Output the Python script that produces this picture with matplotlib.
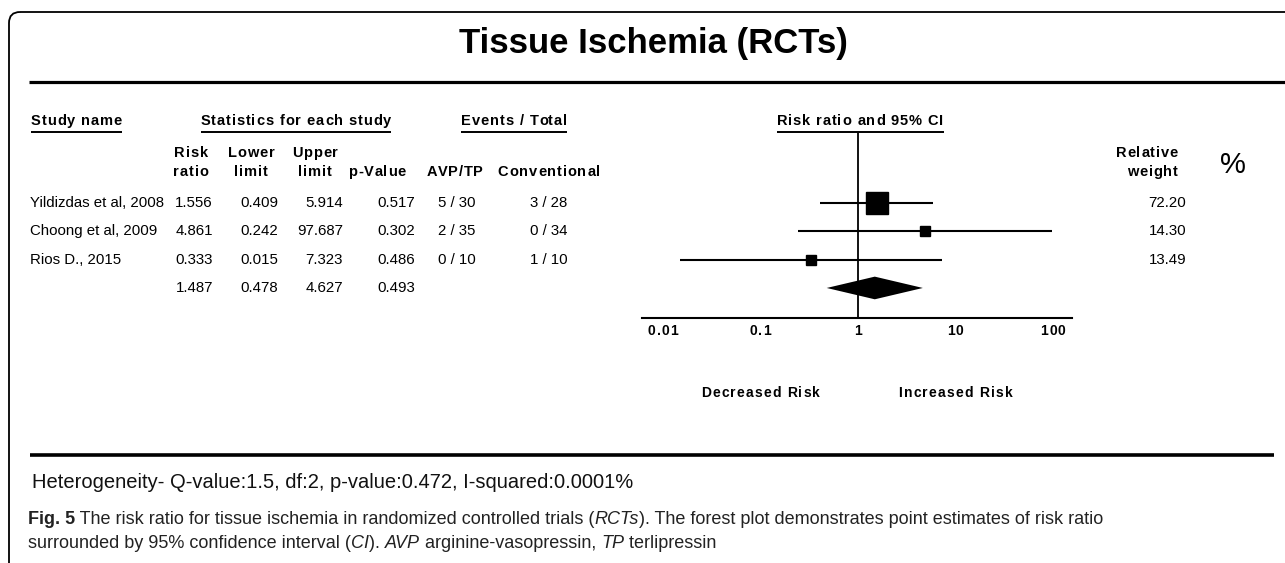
import matplotlib
matplotlib.use('Agg')
import matplotlib.pyplot as plt
from matplotlib.patches import FancyBboxPatch
from matplotlib.font_manager import FontProperties

# --- data ---
title = 'Tissue Ischemia (RCTs)'
studies = ['Yildizdas et al, 2008', 'Choong et al, 2009', 'Rios D., 2015']
risk_ratio = [1.556, 4.861, 0.333]
lower_limit = [0.409, 0.242, 0.015]
upper_limit = [5.914, 97.687, 7.323]
p_values = [0.517, 0.302, 0.486]
avp_tp = ['5 / 30', '2 / 35', '0 / 10']
conventional = ['3 / 28', '0 / 34', '1 / 10']
rel_weight = [72.20, 14.30, 13.49]
pooled_rr = 1.487
pooled_lo = 0.478
pooled_hi = 4.627
pooled_p = 0.493
xticks = [0.01, 0.1, 1, 10, 100]
xtick_labels = ['0.01', '0.1', '1', '10', '100']
heterogeneity = 'Heterogeneity- Q-value:1.5, df:2, p-value:0.472, I-squared:0.0001%'
caption1 = [('Fig. 5', 'bold', 'normal'),
            (' The risk ratio for tissue ischemia in randomized controlled trials (', 'normal', 'normal'),
            ('RCTs', 'normal', 'italic'),
            ('). The forest plot demonstrates point estimates of risk ratio', 'normal', 'normal')]
caption2 = [('surrounded by 95% confidence interval (', 'normal', 'normal'),
            ('CI', 'normal', 'italic'),
            ('). ', 'normal', 'normal'),
            ('AVP', 'normal', 'italic'),
            (' arginine-vasopressin, ', 'normal', 'normal'),
            ('TP', 'normal', 'italic'),
            (' terlipressin', 'normal', 'normal')]

SANS = ['Liberation Sans', 'DejaVu Sans']

W, H = 1285, 563
fig = plt.figure(figsize=(W / 100, H / 100), dpi=100)
bg = fig.add_axes([0, 0, 1, 1])
bg.set_xlim(0, W)
bg.set_ylim(H, 0)
bg.axis('off')
renderer = fig.canvas.get_renderer()


def text_w(s, prop):
    # advance width of s (spaces included) in pixels
    w_h = renderer.get_text_width_height_descent('H', prop, ismath=False)[0]
    return renderer.get_text_width_height_descent(s + 'H', prop, ismath=False)[0] - w_h


def tracked(x, y, s, size=10.5, ha='left', track=0.9, weight='bold', underline=None):
    # bold header text with the loose letter spacing of the original
    prop = FontProperties(family=SANS, weight=weight, size=size)
    total = text_w(s, prop) + track * (len(s) - 1)
    if ha == 'center':
        x = x - total / 2
    elif ha == 'right':
        x = x - total
    for i, ch in enumerate(s):
        if ch == ' ':
            continue
        cx = x + (text_w(s[:i], prop) if i else 0) + track * i
        bg.text(cx, y, ch, fontproperties=prop, ha='left', va='center')
    if underline is not None:
        bg.plot([x, x + total], [underline, underline], color='black', lw=1.4,
                solid_capstyle='butt')


# frame and rules
bg.add_patch(FancyBboxPatch((9, 12), 1400, 700, boxstyle='round,pad=0,rounding_size=11',
                            fc='none', ec='black', lw=1.3))
bg.plot([29, W], [82, 82], color='black', lw=2.3, solid_capstyle='butt')
bg.plot([30, 1274], [455, 455], color='black', lw=2.6, solid_capstyle='butt')

bg.text(653, 44, title, family=SANS, weight='bold', fontsize=25, ha='center', va='center')

tracked(31, 121, 'Study name', underline=132)
tracked(296, 121, 'Statistics for each study', ha='center', underline=132)
tracked(514, 121, 'Events / Total', ha='center', underline=132)
tracked(860, 121, 'Risk ratio and 95% CI', ha='center', underline=132)

for x, top, bottom in [(191, 'Risk', 'ratio'), (251, 'Lower', 'limit'), (315, 'Upper', 'limit')]:
    tracked(x, 153, top, ha='center')
    tracked(x, 172, bottom, ha='center')
tracked(377, 172, 'p-Value', ha='center')
tracked(455, 172, 'AVP/TP', ha='center')
tracked(549, 172, 'Conventional', ha='center')
tracked(1178, 153, 'Relative', ha='right')
tracked(1178, 172, 'weight', ha='right')
bg.text(1233, 165, '%', family=SANS, fontsize=21, ha='center', va='center')

val = dict(family=SANS, fontsize=10.8, va='center')
row_y = [203 + 28.3 * i for i in range(4)]
for i, name in enumerate(studies):
    y = row_y[i]
    bg.text(30, y, name, ha='left', **val)
    bg.text(213, y, f'{risk_ratio[i]:.3f}', ha='right', **val)
    bg.text(278, y, f'{lower_limit[i]:.3f}', ha='right', **val)
    bg.text(343, y, f'{upper_limit[i]:.3f}', ha='right', **val)
    bg.text(415, y, f'{p_values[i]:.3f}', ha='right', **val)
    bg.text(438, y, avp_tp[i], ha='left', **val)
    bg.text(549, y, conventional[i], ha='center', **val)
    bg.text(1186, y, f'{rel_weight[i]:.2f}', ha='right', **val)
y = row_y[3]
bg.text(213, y, f'{pooled_rr:.3f}', ha='right', **val)
bg.text(278, y, f'{pooled_lo:.3f}', ha='right', **val)
bg.text(343, y, f'{pooled_hi:.3f}', ha='right', **val)
bg.text(415, y, f'{pooled_p:.3f}', ha='right', **val)

# forest panel
ax = fig.add_axes([642 / W, 1 - 318 / H, 430 / W, 185 / H])
ax.set_xscale('log')
ax.set_xlim(10 ** -2.215, 10 ** 2.195)
ax.set_ylim(4.06, -2.47)
for s in ['top', 'left', 'right']:
    ax.spines[s].set_visible(False)
ax.spines['bottom'].set_linewidth(1.5)
ax.set_yticks([])
ax.set_xticks(xticks)
ax.set_xticklabels([''] * len(xticks))
ax.minorticks_off()
ax.tick_params(axis='x', length=0)
ax.patch.set_alpha(0)
ax.axvline(1, color='black', lw=1.3)

for i in range(len(studies)):
    ax.hlines(i, lower_limit[i], upper_limit[i], color='black', lw=1.5)
    ax.plot(risk_ratio[i], i, marker='s', linestyle='none', color='black',
            ms=15.8 * (rel_weight[i] / rel_weight[0]) ** 0.5)
ax.fill([pooled_lo, pooled_rr, pooled_hi, pooled_rr], [3, 2.6, 3, 3.4], color='black', lw=0)

# tick labels and direction labels, placed through the log x scale
fig.canvas.draw()
for v, lab in zip(xticks, xtick_labels):
    px = ax.transData.transform((v, 0))[0]
    tracked(px, 331, lab, size=10, ha='center', track=1.0)
tracked(ax.transData.transform((0.1, 0))[0], 393, 'Decreased Risk', ha='center', size=10, track=1.2)
tracked(ax.transData.transform((10, 0))[0], 393, 'Increased Risk', ha='center', size=10, track=1.2)

# footer
bg.text(32, 482, heterogeneity, family=SANS, fontsize=14.5, ha='left', va='center', color='#111111')


def caption_line(x, y, parts):
    for s, w, st in parts:
        t = bg.text(x, y, s, family=SANS, fontsize=13, weight=w, style=st,
                    ha='left', va='center', color='#222222')
        bb = t.get_window_extent(renderer).transformed(bg.transData.inverted())
        x = bb.x1


caption_line(28, 520, caption1)
caption_line(28, 543, caption2)

fig.savefig('out.png', dpi=100)
